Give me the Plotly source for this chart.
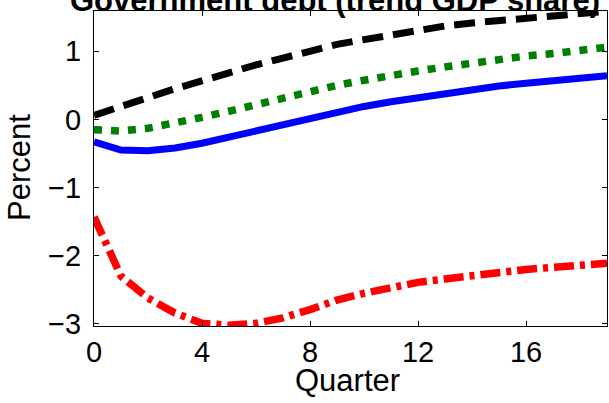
import plotly.graph_objects as go

quarters = list(range(20))
black_dashed = [0.06, 0.18, 0.32, 0.45, 0.575, 0.68, 0.80, 0.90, 1.01, 1.10,
                1.17, 1.24, 1.31, 1.37, 1.415, 1.45, 1.50, 1.54, 1.56, 1.585]
green_dotted = [-0.15, -0.17, -0.13, -0.06, 0.03, 0.12, 0.22, 0.32, 0.42, 0.50,
                0.575, 0.65, 0.71, 0.77, 0.83, 0.88, 0.93, 0.965, 1.01, 1.06]
blue_solid = [-0.33, -0.45, -0.46, -0.42, -0.35, -0.26, -0.17, -0.07, 0.03, 0.11,
              0.19, 0.26, 0.32, 0.38, 0.44, 0.49, 0.53, 0.575, 0.61, 0.64]
red_dashdot = [-1.43, -2.30, -2.62, -2.84, -2.99, -3.02, -2.99, -2.91, -2.79, -2.65,
               -2.55, -2.46, -2.39, -2.34, -2.29, -2.25, -2.20, -2.17, -2.15, -2.11]

x_ticks = [0, 4, 8, 12, 16]
y_ticks = [-3, -2, -1, 0, 1]

FONT = "Arial, Liberation Sans, Helvetica, sans-serif"

L, R, T, B = 94, 607.5, 10.7, 326.5
W, H = 609, 403

fig = go.Figure()
fig.add_trace(go.Scatter(x=quarters, y=black_dashed, mode="lines",
                         line=dict(color="black", width=7, dash="21px,10px")))
fig.add_trace(go.Scatter(x=quarters, y=green_dotted, mode="lines",
                         line=dict(color="#008000", width=7.5, dash="8px,9px")))
fig.add_trace(go.Scatter(x=quarters, y=blue_solid, mode="lines",
                         line=dict(color="#0000ff", width=7)))
fig.add_trace(go.Scatter(x=quarters, y=red_dashdot, mode="lines",
                         line=dict(color="#ff0000", width=7.5, dash="20px,6px,5px,6px")))

fig.update_layout(
    width=W, height=H,
    margin=dict(l=L, r=W - R, t=T, b=H - B, autoexpand=False),
    paper_bgcolor="white", plot_bgcolor="white",
    showlegend=False,
    font=dict(family=FONT, size=29, color="black"),
)
fig.update_xaxes(
    range=[0, 19], tickvals=x_ticks, ticktext=[str(v) for v in x_ticks],
    ticks="inside", ticklen=5, tickwidth=1, tickcolor="black",
    showline=True, linecolor="black", linewidth=1.3, mirror="ticks",
    showgrid=False, zeroline=False, automargin=False,
    tickfont=dict(size=29),
)
fig.update_yaxes(
    range=[-3.03, 1.59], tickvals=y_ticks,
    ticks="inside", ticklen=5, tickwidth=1, tickcolor="black",
    showline=True, linecolor="black", linewidth=1.3, mirror="ticks",
    showgrid=False, zeroline=False, automargin=False,
    tickfont=dict(size=29), ticklabelstandoff=6,
)
ph = B - T
# axis titles
fig.add_annotation(
    text="Quarter", xref="paper", yref="paper",
    x=(348 - L) / (R - L), y=0, yshift=-(381 - B),
    xanchor="center", yanchor="middle", showarrow=False,
    font=dict(size=31, family=FONT, color="black"),
)
fig.add_annotation(
    text="Percent", xref="paper", yref="paper", textangle=-90,
    x=0, xshift=19.5 - L, y=(B - 167.5) / ph,
    xanchor="center", yanchor="middle", showarrow=False,
    font=dict(size=31, family=FONT, color="black"),
)
fig.add_annotation(
    text="<b>Government debt (trend GDP share)</b>",
    xref="paper", yref="paper", x=(335 - L) / (R - L), y=1,
    xanchor="center", yanchor="bottom", yshift=-9,
    showarrow=False, font=dict(size=31, family=FONT, color="black"),
)
fig.write_html("out.html", config={"displayModeBar": False},
               post_script="document.body.style.margin='0';document.body.style.padding='0';")
